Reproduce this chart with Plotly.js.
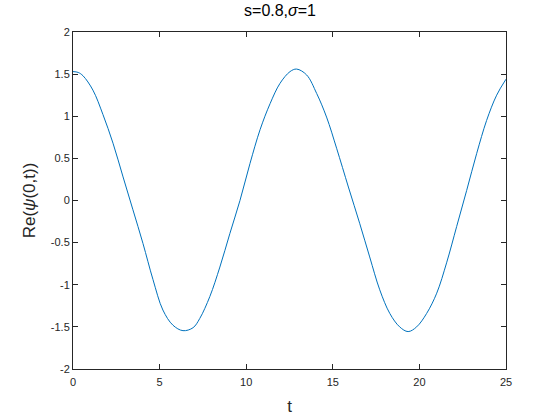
<!DOCTYPE html>
<html>
<head>
<meta charset="utf-8">
<script src="https://cdn.plot.ly/plotly-3.0.1.min.js"></script>
<style>
  html, body { margin: 0; padding: 0; background: #fff; }
  #chart { width: 560px; height: 420px; }
</style>
</head>
<body>
<div id="chart"></div>
<script>
// values
const tValues = [0, 0.3, 0.58, 1.15, 1.73, 2.31, 2.89, 3.46, 4.04, 4.62, 5.19, 5.77, 6.35, 6.93,
  7.32, 7.9, 8.48, 9.06, 9.64, 10.22, 10.8, 11.38, 11.95, 12.53, 12.91, 13.49, 14.07, 14.64,
  15.22, 15.9, 16.55, 17.13, 17.71, 18.29, 18.86, 19.35, 19.84, 20.42, 21.0, 21.57, 22.15,
  22.73, 23.31, 23.88, 24.46, 25];
const reValues = [1.53, 1.52, 1.48, 1.31, 1.02, 0.68, 0.28, -0.11, -0.51, -0.94, -1.30, -1.48, -1.545, -1.51,
  -1.40, -1.14, -0.79, -0.39, 0.0, 0.44, 0.84, 1.15, 1.39, 1.53, 1.56, 1.49, 1.27, 0.99,
  0.62, 0.16, -0.27, -0.67, -1.06, -1.34, -1.50, -1.556, -1.50, -1.34, -1.10, -0.74, -0.31,
  0.12, 0.56, 0.95, 1.25, 1.44];
const xTicks = [0, 5, 10, 15, 20, 25];
const yTicks = [-2, -1.5, -1, -0.5, 0, 0.5, 1, 1.5, 2];

const axisColor = '#262626';
const fontFamily = 'Arial, "Liberation Sans", sans-serif';

const data = [{
  x: tValues,
  y: reValues,
  type: 'scatter',
  mode: 'lines',
  line: { color: '#0072BD', width: 1, shape: 'spline', smoothing: 1 },
  hoverinfo: 'none'
}];

const baseAxis = {
  showgrid: false,
  zeroline: false,
  showline: true,
  linecolor: axisColor,
  linewidth: 1,
  mirror: 'ticks',
  ticks: 'inside',
  ticklen: 5,
  tickcolor: axisColor,
  tickfont: { family: fontFamily, size: 11, color: axisColor }
};

const layout = {
  width: 560,
  height: 420,
  paper_bgcolor: '#fff',
  plot_bgcolor: '#fff',
  showlegend: false,
  margin: { l: 73, r: 54, t: 32, b: 51 },
  title: {
    text: 's=0.8,<i>σ</i>=1',
    font: { family: fontFamily, size: 16, color: '#000' },
    x: 0.5,
    xanchor: 'center',
    y: 0.975,
    yanchor: 'middle'
  },
  xaxis: Object.assign({}, baseAxis, {
    range: [0, 25],
    tickvals: xTicks,
    ticktext: xTicks.map(String),
    ticklabelstandoff: 3,
    title: { text: 't', standoff: 12, font: { family: fontFamily, size: 17, color: axisColor } }
  }),
  yaxis: Object.assign({}, baseAxis, {
    range: [-2, 2],
    tickvals: yTicks,
    ticktext: yTicks.map(String),
    title: { text: 'Re(<i>ψ</i>(0,t))', standoff: 10, font: { family: fontFamily, size: 17, color: axisColor } }
  })
};

Plotly.newPlot('chart', data, layout, { displayModeBar: false, staticPlot: true });
</script>
</body>
</html>
